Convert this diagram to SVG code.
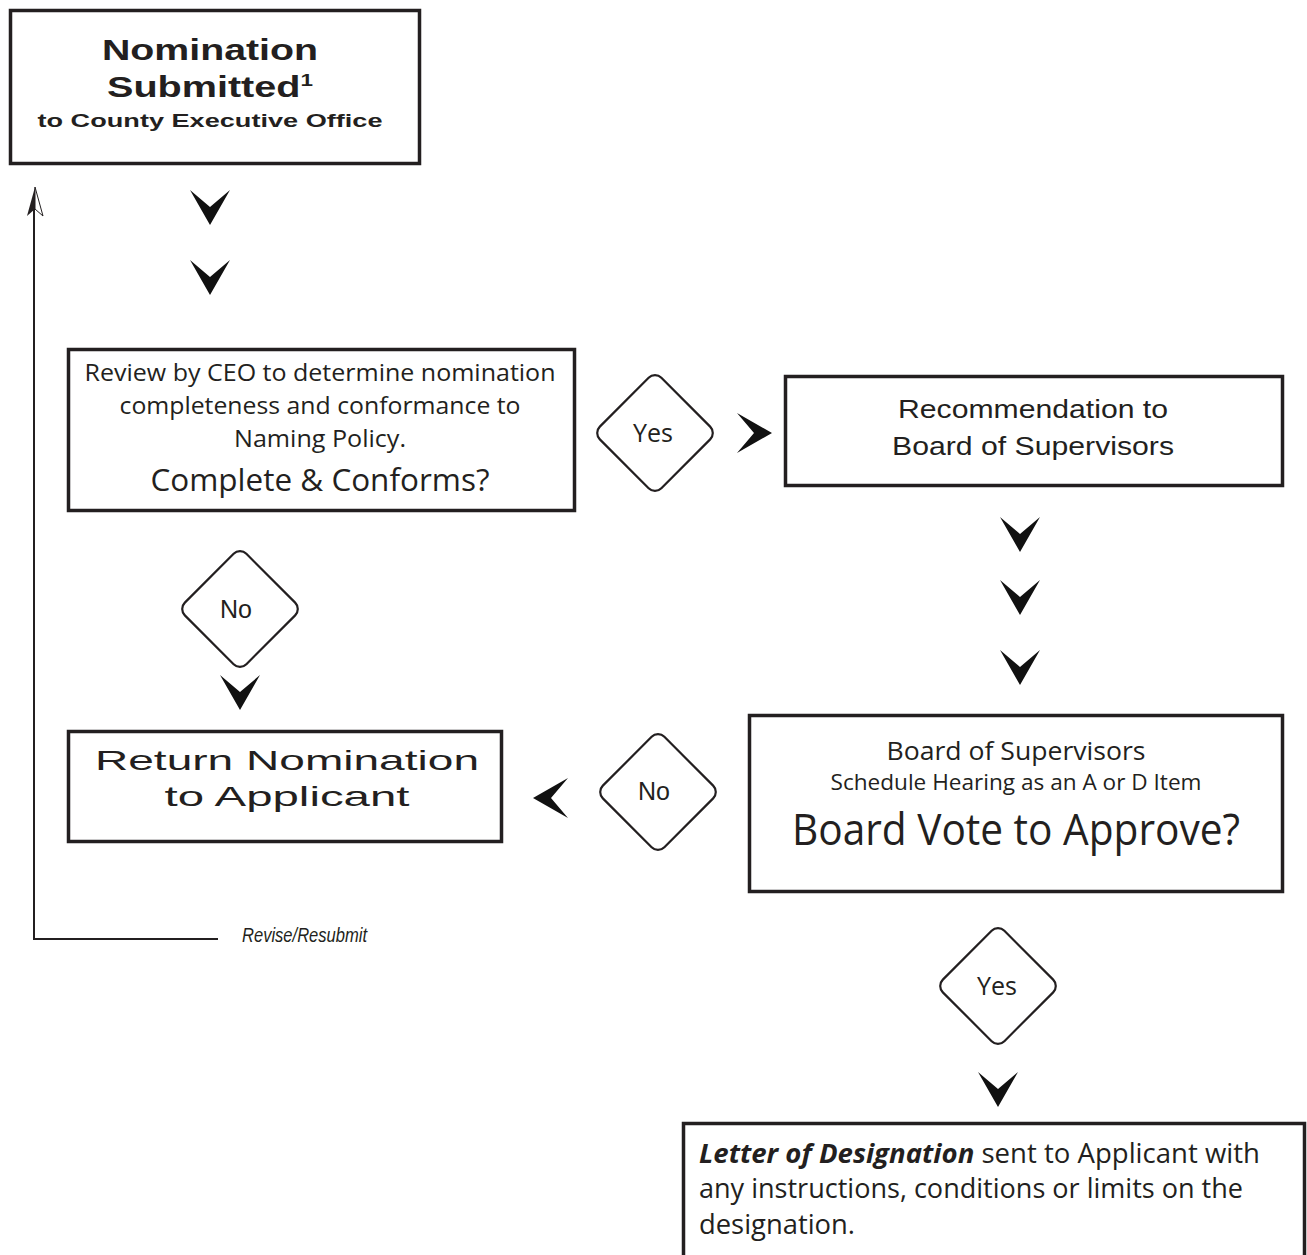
<svg xmlns="http://www.w3.org/2000/svg" width="1307" height="1255" viewBox="0 0 1307 1255">
<defs>
<style>
.box{fill:#fff;stroke:#231f20;stroke-width:3.5}
.dia{fill:#fff;stroke:#231f20;stroke-width:2.2}
.wide{font-family:"Liberation Sans",Arial,sans-serif;font-weight:bold;fill:#231f20}
.wreg{font-family:"Liberation Sans",Arial,sans-serif;font-weight:normal;fill:#231f20}
.hum{font-family:"Open Sans","Noto Sans",sans-serif;fill:#231f20}
.ar{font-family:"Liberation Sans",Arial,sans-serif;fill:#231f20}
.chev{fill:#111}
.line{fill:none;stroke:#231f20;stroke-width:2}
</style>
<path id="chev" class="chev" d="M-20,-35 L0,-18 L20,-35 L0,0 Z"/>
</defs>
<rect width="1307" height="1255" fill="#fff"/>

<g id="connectors">
<use href="#chev" x="210" y="225"/>
<use href="#chev" x="210" y="295"/>
<use href="#chev" transform="translate(772,433) rotate(-90)"/>
<use href="#chev" x="1020" y="552"/>
<use href="#chev" x="1020" y="615"/>
<use href="#chev" x="1020" y="685"/>
<use href="#chev" x="240" y="710"/>
<use href="#chev" transform="translate(533,798) rotate(90)"/>
<use href="#chev" x="998" y="1107"/>
<path class="line" d="M218,939 L34,939 L34,200"/>
<path d="M35,187 L27,216 L35,209 Z" fill="#231f20"/>
<path d="M35,187 L43,216 L35,209 Z" fill="#fff" stroke="#231f20" stroke-width="1"/>
<text class="ar" x="242" y="942" font-size="20" font-style="italic" textLength="125" lengthAdjust="spacingAndGlyphs">Revise/Resubmit</text>
</g>

<g id="node-nomination">
<rect class="box" x="10.5" y="10.5" width="409" height="153"/>
<text class="wide" x="210" y="60" font-size="30" text-anchor="middle" textLength="216" lengthAdjust="spacingAndGlyphs">Nomination</text>
<text class="wide" x="210" y="97" font-size="30" text-anchor="middle" textLength="206" lengthAdjust="spacingAndGlyphs">Submitted<tspan font-size="17" dy="-11">1</tspan></text>
<text class="wide" x="210" y="127" font-size="19" text-anchor="middle" textLength="345" lengthAdjust="spacingAndGlyphs">to County Executive Office</text>
</g>

<g id="node-review">
<rect class="box" x="68.5" y="349.5" width="506" height="161"/>
<text class="hum" x="320" y="381" font-size="24" text-anchor="middle" textLength="471" lengthAdjust="spacingAndGlyphs">Review by CEO to determine nomination</text>
<text class="hum" x="320" y="414" font-size="24" text-anchor="middle" textLength="401" lengthAdjust="spacingAndGlyphs">completeness and conformance to</text>
<text class="hum" x="320" y="447" font-size="24" text-anchor="middle" textLength="172" lengthAdjust="spacingAndGlyphs">Naming Policy.</text>
<text class="hum" x="320" y="491" font-size="31" text-anchor="middle" textLength="339" lengthAdjust="spacingAndGlyphs">Complete &amp; Conforms?</text>
</g>

<g id="node-yes1">
<rect class="dia" x="-43.5" y="-43.5" width="87" height="87" rx="9" transform="translate(655,433) rotate(45)"/>
<text class="hum" x="653" y="442" font-size="25" text-anchor="middle">Yes</text>
</g>

<g id="node-recommendation">
<rect class="box" x="785.5" y="376.5" width="497" height="109"/>
<text class="ar" x="1033" y="418" font-size="26" text-anchor="middle" textLength="270" lengthAdjust="spacingAndGlyphs">Recommendation to</text>
<text class="ar" x="1033" y="455" font-size="26" text-anchor="middle" textLength="282" lengthAdjust="spacingAndGlyphs">Board of Supervisors</text>
</g>

<g id="node-no1">
<rect class="dia" x="-43.5" y="-43.5" width="87" height="87" rx="9" transform="translate(240,609) rotate(45)"/>
<text class="ar" x="236" y="618" font-size="25" text-anchor="middle">No</text>
</g>

<g id="node-return">
<rect class="box" x="68.5" y="731.5" width="433" height="110"/>
<text class="wreg" x="287" y="770" font-size="28" text-anchor="middle" textLength="384" lengthAdjust="spacingAndGlyphs">Return Nomination</text>
<text class="wreg" x="287" y="806" font-size="28" text-anchor="middle" textLength="245" lengthAdjust="spacingAndGlyphs">to Applicant</text>
</g>

<g id="node-no2">
<rect class="dia" x="-43.5" y="-43.5" width="87" height="87" rx="9" transform="translate(658,792) rotate(45)"/>
<text class="ar" x="654" y="800" font-size="25" text-anchor="middle">No</text>
</g>

<g id="node-board">
<rect class="box" x="749.5" y="715.5" width="533" height="176"/>
<text class="hum" x="1016" y="760" font-size="26" text-anchor="middle" textLength="259" lengthAdjust="spacingAndGlyphs">Board of Supervisors</text>
<text class="hum" x="1016" y="790" font-size="21" text-anchor="middle" textLength="371" lengthAdjust="spacingAndGlyphs">Schedule Hearing as an A or D Item</text>
<text class="hum" x="1016" y="845" font-size="43" text-anchor="middle" textLength="448" lengthAdjust="spacingAndGlyphs">Board Vote to Approve?</text>
</g>

<g id="node-yes2">
<rect class="dia" x="-43.5" y="-43.5" width="87" height="87" rx="9" transform="translate(998,986) rotate(45)"/>
<text class="hum" x="997" y="995" font-size="25" text-anchor="middle">Yes</text>
</g>

<g id="node-letter">
<rect class="box" x="683.5" y="1123.5" width="621" height="150"/>
<text class="hum" x="699" y="1163" font-size="27" textLength="561" lengthAdjust="spacingAndGlyphs"><tspan font-weight="bold" font-style="italic">Letter of Designation</tspan> sent to Applicant with</text>
<text class="hum" x="699" y="1198" font-size="27" textLength="544" lengthAdjust="spacingAndGlyphs">any instructions, conditions or limits on the</text>
<text class="hum" x="699" y="1234" font-size="27" textLength="156" lengthAdjust="spacingAndGlyphs">designation.</text>
</g>
</svg>
